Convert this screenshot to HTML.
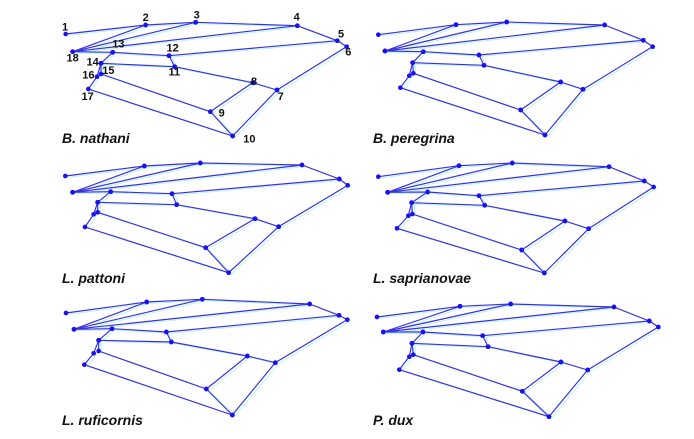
<!DOCTYPE html>
<html><head><meta charset="utf-8"><style>
html,body{margin:0;padding:0;background:#fff;}
svg{display:block;}
.cap{font-family:"Liberation Sans",sans-serif;font-weight:bold;font-style:italic;font-size:14px;fill:#111;}
.num{font-family:"Liberation Sans",sans-serif;font-weight:bold;font-size:33px;fill:#111;text-anchor:middle;}
.w{fill:none;stroke:#3b2fdc;stroke-width:3.5;stroke-linejoin:round;marker-start:url(#d);marker-mid:url(#d);marker-end:url(#d);}
.s{fill:none;stroke:#b8f4f8;stroke-width:3;marker:none;}
</style></head><body>
<svg width="694" height="439" viewBox="0 0 694 439" xmlns="http://www.w3.org/2000/svg">
<defs>
<marker id="d" markerUnits="userSpaceOnUse" markerWidth="16" markerHeight="16" refX="8" refY="8" viewBox="0 0 16 16"><circle cx="8" cy="8" r="7" fill="#1a10f0" stroke="none"/></marker>
<g id="p1">
<path d="M47,72 L287,45 L437,37 L742,47 L862,92 L890,110 L681,240 L548,378 L115,237 L141,200 L153,160 L188,127 L68,125 L287,45"/>
<path d="M68,125 L437,37"/><path d="M68,125 L742,47"/>
<path d="M188,127 L357,137 L862,92"/><path d="M153,160 L374,170 L357,137"/>
<path d="M374,170 L608,218 L681,240"/><path d="M153,160 L153,192 L481,305 L548,378"/><path d="M608,218 L481,305"/>
</g>
<g id="p2">
<path d="M55,74 L288,44 L440,36 L734,45 L850,91 L878,110 L669,238 L555,375 L121,233 L148,197 L158,158 L190,125 L75,123 L288,44"/>
<path d="M75,123 L440,36"/><path d="M75,123 L734,45"/>
<path d="M190,125 L357,135 L850,91"/><path d="M158,158 L372,166 L357,135"/>
<path d="M372,166 L602,216 L669,238"/><path d="M158,158 L160,190 L482,300 L555,375"/><path d="M602,216 L482,300"/>
</g>
<g id="p3">
<path d="M46,78 L283,48 L451,39 L756,45 L868,87 L893,106 L686,230 L536,368 L105,231 L131,193 L143,157 L182,125 L68,127 L283,48"/>
<path d="M68,127 L451,39"/><path d="M68,127 L756,45"/>
<path d="M182,125 L366,131 L868,87"/><path d="M143,157 L380,164 L366,131"/>
<path d="M380,164 L615,206 L686,230"/><path d="M143,157 L143,187 L467,293 L536,368"/><path d="M615,206 L467,293"/>
</g>
<g id="p4">
<path d="M55,80 L297,47 L457,39 L747,50 L853,93 L881,111 L686,236 L553,369 L111,235 L145,197 L155,158 L203,126 L83,127 L297,47"/>
<path d="M83,127 L457,39"/><path d="M83,127 L747,50"/>
<path d="M203,126 L357,137 L853,93"/><path d="M155,158 L374,166 L357,137"/>
<path d="M374,166 L615,213 L686,236"/><path d="M155,158 L157,192 L485,300 L553,369"/><path d="M615,213 L485,300"/>
</g>
<g id="p5">
<path d="M48,69 L290,36 L457,28 L779,42 L867,76 L892,89 L676,218 L547,375 L103,224 L131,190 L146,151 L186,116 L72,118 L290,36"/>
<path d="M72,118 L457,28"/><path d="M72,118 L779,42"/>
<path d="M186,116 L349,126 L867,76"/><path d="M146,151 L364,156 L349,126"/>
<path d="M364,156 L592,198 L676,218"/><path d="M146,151 L146,183 L469,297 L547,375"/><path d="M592,198 L469,297"/>
</g>
<g id="p6">
<path d="M51,81 L300,49 L452,42 L762,51 L868,93 L895,111 L683,240 L567,380 L118,239 L148,200 L156,160 L189,126 L70,126 L300,49"/>
<path d="M70,126 L452,42"/><path d="M70,126 L762,51"/>
<path d="M189,126 L368,137 L868,93"/><path d="M156,160 L384,170 L368,137"/>
<path d="M384,170 L603,216 L683,240"/><path d="M156,160 L160,194 L487,304 L567,380"/><path d="M603,216 L487,304"/>
</g>
</defs>

<g transform="translate(50,10) scale(0.33333)">
<g class="s" transform="translate(8,4)"><use href="#p1"/></g><g class="w"><use href="#p1"/></g>
<text class="num" x="45" y="62">1</text><text class="num" x="287" y="33">2</text><text class="num" x="440" y="25">3</text>
<text class="num" x="740" y="32">4</text><text class="num" x="873" y="82">5</text><text class="num" x="895" y="137">6</text>
<text class="num" x="692" y="270">7</text><text class="num" x="612" y="225">8</text><text class="num" x="515" y="320">9</text>
<text class="num" x="598" y="398">10</text><text class="num" x="373" y="197">11</text><text class="num" x="368" y="125">12</text>
<text class="num" x="205" y="112">13</text><text class="num" x="128" y="167">14</text><text class="num" x="175" y="192">15</text>
<text class="num" x="115" y="205">16</text><text class="num" x="113" y="270">17</text><text class="num" x="68" y="155">18</text>
</g>
<g transform="translate(360,10) scale(0.33333)"><g class="s" transform="translate(8,4)"><use href="#p2"/></g><g class="w"><use href="#p2"/></g></g>
<g transform="translate(50,150) scale(0.33333)"><g class="s" transform="translate(8,4)"><use href="#p3"/></g><g class="w"><use href="#p3"/></g></g>
<g transform="translate(360,150) scale(0.33333)"><g class="s" transform="translate(8,4)"><use href="#p4"/></g><g class="w"><use href="#p4"/></g></g>
<g transform="translate(50,290) scale(0.33333)"><g class="s" transform="translate(8,4)"><use href="#p5"/></g><g class="w"><use href="#p5"/></g></g>
<g transform="translate(360,290) scale(0.33333)"><g class="s" transform="translate(8,4)"><use href="#p6"/></g><g class="w"><use href="#p6"/></g></g>

<text class="cap" x="62" y="143">B. nathani</text>
<text class="cap" x="373" y="143">B. peregrina</text>
<text class="cap" x="62" y="283">L. pattoni</text>
<text class="cap" x="373" y="283">L. saprianovae</text>
<text class="cap" x="62" y="425">L. ruficornis</text>
<text class="cap" x="373" y="425">P. dux</text>
</svg>
</body></html>
